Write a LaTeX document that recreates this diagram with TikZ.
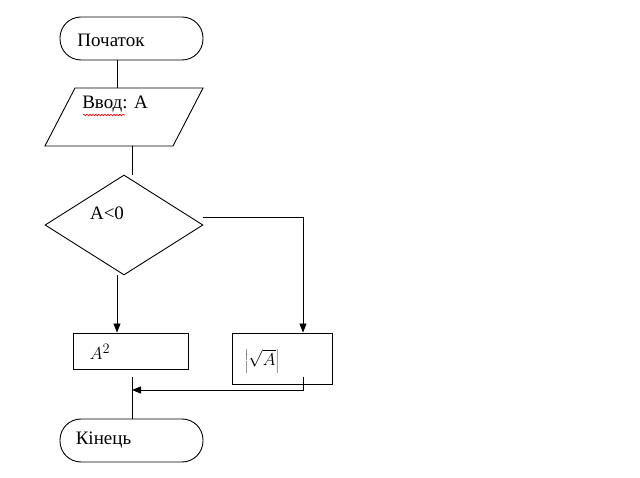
\documentclass[tikz,border=0pt]{standalone}
\usepackage{fontspec}
\setmainfont{Liberation Serif}
\usetikzlibrary{positioning,shapes.geometric,arrows.meta,decorations.pathmorphing}

\tikzset{
  term/.style={rectangle,draw,rounded corners=21pt,minimum width=143pt,minimum height=43pt},
  inout/.style={trapezium,draw,trapezium left angle=62.6,trapezium right angle=117.4,
    inner xsep=49pt,inner ysep=29pt},
  test/.style={diamond,draw,minimum width=158pt,minimum height=100pt,inner sep=0pt},
  proc/.style={rectangle,draw},
  line/.style={draw},
  arr/.style={draw,-{Triangle[length=9pt,width=7pt]}}
}

\begin{document}
\begin{tikzpicture}[x=1pt,y=-1pt,line width=0.9pt,font=\fontsize{19}{22}\selectfont]
  \useasboundingbox (0,0) rectangle (640,478);

  \node[term,label={[xshift=-20.5pt,yshift=-1.5pt]center:Початок}] (start) at (131.5,38.5) {};
  \node[inout,label={[xshift=-9pt,yshift=13pt]center:Ввод: А}] (input) at (124,117) {};
  \node[test,label={[xshift=-17pt,yshift=12pt]center:A<0}] (cond) at (124,225) {};
  \node[proc,minimum width=115pt,minimum height=36pt,
    label={[xshift=-30.5pt,yshift=-1pt]center:$A^2$}] (square) at (130.5,351) {};
  \node[proc,minimum width=100pt,minimum height=51pt,
    label={[xshift=-20pt,yshift=-2.5pt]center:$\biggl|\sqrt{A}\biggr|$}] (root) at (282,358.5) {};
  \node[term,label={[xshift=-28pt]center:Кінець}] (stop) at (131.5,440.5) {};

  % helper points
  \coordinate (xa) at (117,0);
  \coordinate (xb) at (132,0);
  \coordinate (xc) at (303,0);
  \coordinate (yr) at (0,217);
  \coordinate (back) at (303,377);
  \coordinate (join) at (132,390);
  \coordinate (merge) at (132,377);

  \draw[line] (start.south -| xa) -- (input.north -| xa);
  \draw[line] (input.south -| xb) -- (cond.north -| xb);
  \draw[arr] (cond.south -| xa) -- (square.north -| xa);
  \draw[arr] (cond.east |- yr) -| (root.north -| xc);
  \draw[arr] (back) |- (join);
  \draw[line] (merge) -- (stop.north -| merge);

  % spell check mark
  \draw[red,line width=0.6pt,decorate,decoration={snake,amplitude=0.8pt,segment length=3pt}]
    (83,115) -- (125,115);
\end{tikzpicture}
\end{document}
